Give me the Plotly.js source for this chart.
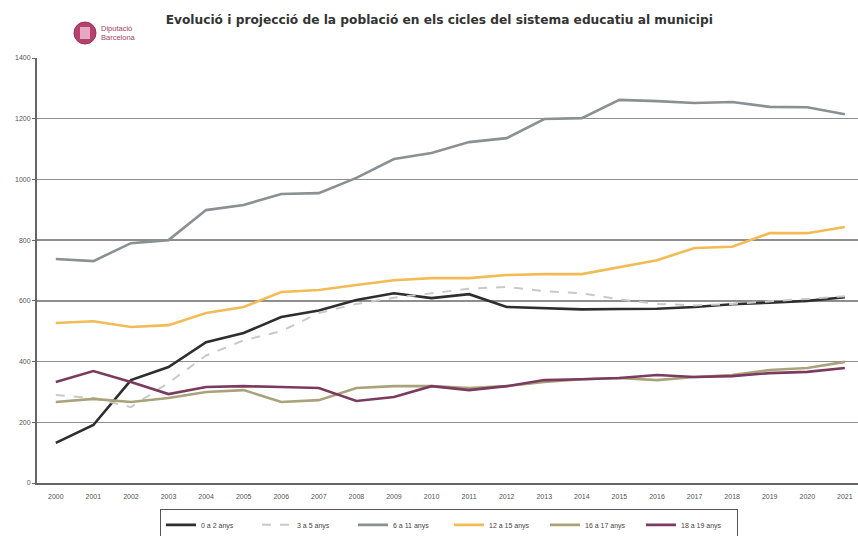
<!DOCTYPE html>
<html>
<head>
<meta charset="utf-8">
<script src="https://cdn.plot.ly/plotly-3.0.1.min.js"></script>
<style>html,body{margin:0;padding:0;background:#fff;}#chart{width:858px;height:536px;}</style>
</head>
<body>
<div id="chart"></div>
<script>
const years = ["2000","2001","2002","2003","2004","2005","2006","2007","2008","2009","2010","2011","2012","2013","2014","2015","2016","2017","2018","2019","2020","2021"];
const anys0a2   = [132,191,339,382,464,494,547,568,603,625,609,622,580,576,572,573,574,580,589,594,600,612];
const anys3a5   = [290,280,250,330,420,470,500,560,590,610,625,640,646,632,625,605,590,585,590,598,605,615];
const anys6a11  = [738,731,790,800,899,916,952,955,1005,1067,1087,1123,1136,1199,1202,1262,1258,1252,1255,1239,1238,1215];
const anys12a15 = [527,533,514,520,560,580,629,636,652,668,675,675,685,688,688,712,734,774,778,823,823,843];
const anys16a17 = [267,277,267,280,300,306,267,273,313,319,319,313,319,333,342,346,339,349,356,372,379,399];
const anys18a19 = [333,369,333,293,316,319,316,313,270,283,319,306,319,339,342,346,356,349,352,362,366,379];
const seriesNames = ["0 a 2 anys","3 a 5 anys","6 a 11 anys","12 a 15 anys","16 a 17 anys","18 a 19 anys"];
const yTicks = [0,200,400,600,800,1000,1200,1400];

const styles = [
  {color:"#2e2e30", width:2.6, dash:"solid"},
  {color:"#c9c9c9", width:2.0, dash:"dash"},
  {color:"#8b9093", width:2.6, dash:"solid"},
  {color:"#f2bb55", width:2.6, dash:"solid"},
  {color:"#a9a27a", width:2.6, dash:"solid"},
  {color:"#7b3b5e", width:2.6, dash:"solid"}
];
const data = [anys0a2, anys3a5, anys6a11, anys12a15, anys16a17, anys18a19];
const traces = [];
[0,1,2,3,4,5].forEach(i => {
  traces.push({
    type:"scatter", mode:"lines", x:years, y:data[i], name:seriesNames[i],
    line:{color:styles[i].color, width:styles[i].width, dash:styles[i].dash, shape:"linear"},
    hoverinfo:"skip"
  });
});

const L = 37, R = 858, T = 58, B = 483;
const px = x => (x - L) / (R - L);
const py = y => (B - y) / (B - T);

const layout = {
  width:858, height:536,
  margin:{l:L, r:0, t:T, b:536-B, pad:0, autoexpand:false},
  paper_bgcolor:"#ffffff", plot_bgcolor:"#ffffff",
  font:{family:"Liberation Sans, Arial, sans-serif", size:8, color:"#555"},
  title:{text:"<b>Evolució i projecció de la població en els cicles del sistema educatiu al municipi</b>",
         font:{family:"DejaVu Sans, sans-serif", size:12.2, color:"#333"},
         x:0.512, xanchor:"center", y:0.963, yanchor:"middle"},
  showlegend:true,
  legend:{orientation:"h", x:px(160), xanchor:"left", y:-0.062, yanchor:"top",
          bordercolor:"#555", borderwidth:1, bgcolor:"#fff",
          font:{size:7, color:"#444"}, entrywidth:51, entrywidthmode:"pixels",
          traceorder:"normal", itemwidth:30, tracegroupgap:0},
  xaxis:{type:"category", range:[-0.5,21.35], showgrid:false, zeroline:false,
         showline:true, linecolor:"#666", linewidth:2,
         ticks:"", tickfont:{size:7, color:"#555"}, ticklabelstandoff:6, fixedrange:true},
  yaxis:{range:[0,1400], tickvals:yTicks, ticktext:yTicks.map(String),
         showgrid:true, gridcolor:"#8e8e8e", gridwidth:1.4, zeroline:false,
         showline:true, linecolor:"#666", linewidth:2,
         ticks:"outside", ticklen:3, tickcolor:"#666",
         tickfont:{size:7, color:"#555"}, fixedrange:true},
  shapes:[
    {type:"circle", xref:"paper", yref:"paper", x0:px(74), x1:px(96), y0:py(44), y1:py(22),
     fillcolor:"#b6416f", line:{color:"#9a2f5a", width:1}},
    {type:"rect", xref:"paper", yref:"paper", x0:px(80), x1:px(90), y0:py(39), y1:py(27),
     fillcolor:"#e7a9c1", line:{width:0}}
  ],
  annotations:[
    {xref:"paper", yref:"paper", x:px(99), y:py(28), xanchor:"left", yanchor:"middle",
     text:"Diputació", showarrow:false, font:{size:7.5, color:"#a0446a"}},
    {xref:"paper", yref:"paper", x:px(99), y:py(37), xanchor:"left", yanchor:"middle",
     text:"Barcelona", showarrow:false, font:{size:7.5, color:"#a0446a"}}
  ]
};

Plotly.newPlot("chart", traces, layout, {displayModeBar:false, staticPlot:true});
</script>
</body>
</html>
